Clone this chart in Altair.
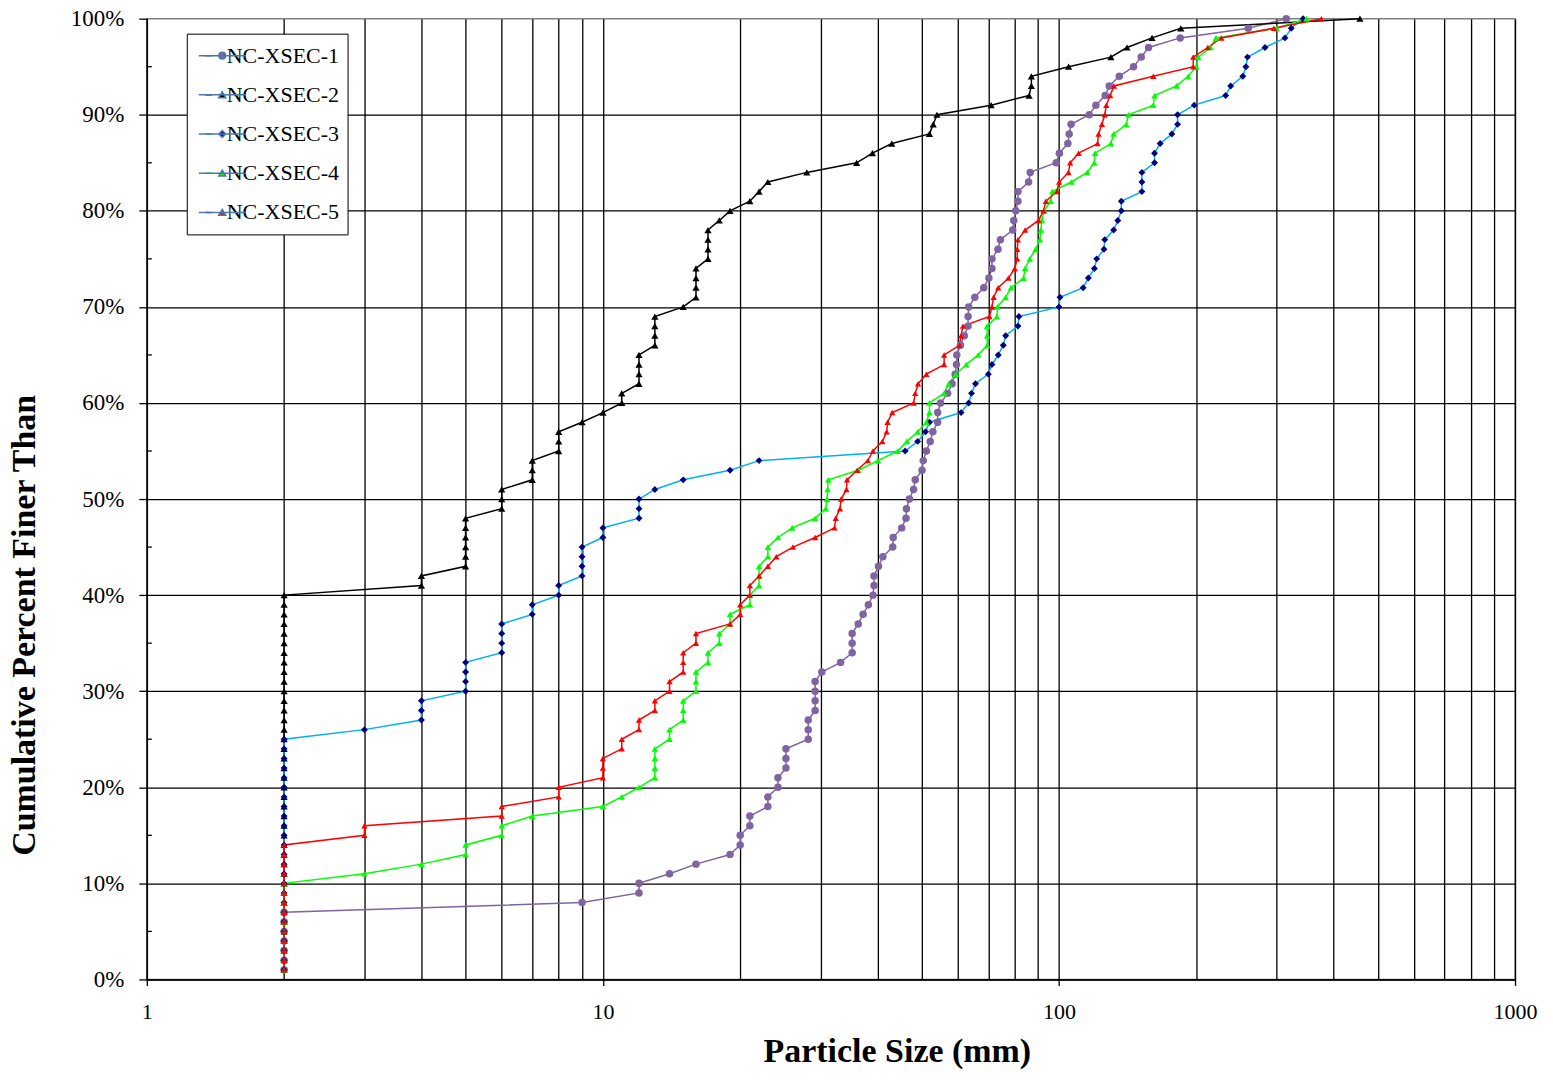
import altair as alt
import pandas as pd

names = ["NC-XSEC-1", "NC-XSEC-2", "NC-XSEC-3", "NC-XSEC-4", "NC-XSEC-5"]
pct = list(range(1, 101))

# particle size (mm) at each cumulative percent 1..100
xsec1 = [2, 2, 2, 2, 2, 2, 2, 9, 12, 12,
         14, 16, 19, 20, 20, 21, 21, 23, 23, 24.2,
         24.2, 25.2, 25.2, 25.2, 28.2, 28.2, 28.2, 29.2, 29.2, 29.2,
         29.2, 30.2, 33.2, 35.2, 35.2, 35.2, 36.3, 37.2, 38.2, 39.1,
         39.3, 39.3, 40.2, 41.1, 43.2, 43.3, 45.2, 46.2, 46.3, 47,
         48, 48.4, 50.1, 50.4, 51.2, 52.2, 52.9, 54.2, 54.2, 55,
         57, 58.3, 59.2, 59.6, 59.7, 60.8, 62, 63.2, 63.2, 63.4,
         65.4, 68.4, 70.2, 71.3, 71.3, 73.5, 74.4, 79.2, 79.6, 80.4,
         81.3, 81.3, 85.8, 86.5, 98.6, 100.2, 104.6, 105.3, 106.3, 116.5,
         120.5, 126.3, 128.9, 135.6, 145.7, 151.5, 157.2, 184.4, 260, 315]
xsec2 = [2] * 40 + [
         4, 4, 5, 5, 5, 5, 5, 5, 6, 6,
         6, 7, 7, 7, 8, 8, 8, 9, 10, 11,
         11, 12, 12, 12, 12, 13, 13, 13, 13, 15,
         16, 16, 16, 16, 17, 17, 17, 17, 18, 19,
         21, 22, 23, 28, 36, 39, 43, 52, 53, 54,
         71, 86, 87, 87, 105, 130, 141, 160, 185, 457]
xsec3 = [2] * 20 + [
         2, 2, 2, 2, 2, 3, 4, 4, 4, 5,
         5, 5, 5, 6, 6, 6, 6, 7, 7, 8,
         8, 9, 9, 9, 9, 10, 10, 12, 12, 12,
         13, 15, 19, 22, 46, 49, 51, 52, 61, 63.4,
         64.3, 65.6, 70, 71.3, 73.6, 75.5, 76.4, 81.3, 81.7, 100,
         100.5, 113, 116, 119.6, 121, 125.5, 126, 131.8, 134.6, 137,
         137, 152, 152, 152, 162, 162, 166.7, 176.8, 182, 182,
         198, 232, 238, 253, 257, 259, 283, 313, 323, 343]
xsec4 = [2] * 10 + [
         3, 4, 5, 5, 6, 6, 7, 10, 11, 12,
         13, 13, 13, 13, 14, 14, 15, 15, 15, 16,
         16, 16, 17, 17, 18, 18, 19, 19, 21, 21,
         22, 22, 22, 23, 23, 24.2, 26, 29.2, 30.8, 31,
         31.1, 31.2, 36.3, 40.1, 44.3, 46.4, 49, 51.2, 52, 52,
         56, 57.3, 59.4, 62.6, 66.5, 69.6, 69.6, 69.6, 73.1, 73.3,
         76.4, 78.5, 83.6, 84.3, 86.3, 88.8, 90.8, 91.3, 91.7, 92.8,
         95.9, 96.7, 106.5, 115.3, 119.5, 120, 130, 131.8, 140.5, 142,
         161, 162, 181, 192, 200, 202, 215, 221, 300, 349]
xsec5 = [2] * 10 + [
         2, 2, 2, 2, 3, 3, 6, 6, 8, 8,
         10, 10, 10, 11, 11, 12, 12, 13, 13, 14,
         14, 15, 15, 15, 16, 16, 19, 20, 20, 21,
         21, 22, 23, 24, 26.1, 29.2, 32.2, 32.4, 33.1, 33.3,
         34.2, 34.3, 36.1, 38.1, 39.1, 41, 41.9, 42.1, 43.1, 48,
         48.4, 49.1, 51.2, 56, 56, 60.5, 61, 61.6, 70.4, 71.3,
         71.9, 73.6, 77.5, 80, 81, 81, 81.3, 84.3, 90.2, 92.5,
         93.6, 98.9, 100.1, 104.9, 105.8, 110.4, 121.5, 122.1, 124.2, 126,
         127, 129.5, 132, 161, 197, 197, 212, 227, 296, 376]
series = [xsec1, xsec2, xsec3, xsec4, xsec5]
for s in series:
    assert len(s) == 100, len(s)

x_grid_values = [1, 2, 3, 4, 5, 6, 7, 8, 9, 10, 20, 30, 40, 50, 60, 70, 80, 90,
                 100, 200, 300, 400, 500, 600, 700, 800, 900, 1000]
x_label_values = [1, 10, 100, 1000]
y_major = [0, 10, 20, 30, 40, 50, 60, 70, 80, 90, 100]
y_minor = [5, 15, 25, 35, 45, 55, 65, 75, 85, 95]

line_colors = ["#8064A2", "#000000", "#00B0F0", "#00FF00", "#FF0000"]
marker_colors = ["#8064A2", "#000000", "#000080", "#00FF00", "#FF0000"]
marker_shapes = ["circle", "triangle-up", "diamond", "triangle-up", "triangle-up"]
marker_sizes = [56, 40, 50, 64, 64]

# legend marker glyphs (with the line part), in unit coordinates
LINE = "M-1,0L1,0"
CIRC = "M-0.14,0A0.14,0.14,0,1,1,0.14,0A0.14,0.14,0,1,1,-0.14,0Z"
TRI = "M0,-0.13L0.15,0.12L-0.15,0.12Z"
DIAM = "M0,-0.15L0.15,0L0,0.15L-0.15,0Z"
legend_paths = [LINE + CIRC, LINE + TRI, LINE + DIAM, LINE + TRI, LINE + TRI]

rows = []
for name, vals in zip(names, series):
    for p, v in zip(pct, vals):
        rows.append({"series": name, "size_mm": v, "pct": p})
df = pd.DataFrame(rows)
df_key = df.groupby("series", as_index=False).first()
df_key["key"] = df_key["series"]

FONT = "Liberation Serif"
label_test = "indexof([1, 10, 100, 1000], datum.value) >= 0"

x_enc = alt.X(
    "size_mm:Q",
    scale=alt.Scale(type="log", domain=[1, 1000], nice=False),
    axis=alt.Axis(
        values=x_grid_values,
        grid=True, gridColor="black", gridWidth=1.3, gridOpacity=1,
        labelExpr=f"{label_test} ? '' + datum.value : ''",
        labelFlush=False, labelOverlap=False,
        labelFont=FONT, labelFontSize=22, labelColor="black", labelPadding=16,
        ticks=True, tickSize=6, tickColor="black", tickWidth=1.3,
        tickOpacity={"condition": {"test": label_test, "value": 1}, "value": 0},
        domainColor="black", domainWidth=1.5,
        title="Particle Size (mm)", titleFont=FONT, titleFontSize=34,
        titleFontWeight="bold", titleColor="black",
        titleX=751, titleY=82, titleAlign="center", titleBaseline="alphabetic",
    ),
)
y_enc = alt.Y(
    "pct:Q",
    scale=alt.Scale(domain=[0, 100], nice=False),
    axis=alt.Axis(
        values=y_major,
        labelExpr="datum.value + '%'",
        grid=True, gridColor="black", gridWidth=1.3,
        gridOpacity={"condition": {"test": "datum.value < 100", "value": 1}, "value": 0},
        labelFont=FONT, labelFontSize=23, labelColor="black", labelPadding=15,
        tickSize=8, tickColor="black", tickWidth=1.3,
        domainColor="black", domainWidth=1.5,
        title="Cumulative Percent Finer Than", titleFont=FONT, titleFontSize=34,
        titleFontWeight="bold", titleColor="black",
        titleAngle=270, titleX=-112, titleY=607, titleAlign="center",
        titleBaseline="alphabetic",
    ),
)

legend_geom = dict(
    title=None, orient="none", legendX=40, legendY=15,
    padding=8, clipHeight=28, rowPadding=11.25,
    labelFont=FONT, labelFontSize=22,
    symbolSize=2209, symbolStrokeWidth=1.5, symbolOpacity=1,
    symbolOffset=3, labelOffset=7,
)

# line legend: white box, coloured line samples and the labels
lines = alt.Chart(df).mark_line(strokeWidth=1.5).encode(
    x=x_enc,
    y=y_enc,
    order=alt.Order("pct:Q"),
    color=alt.Color(
        "series:N",
        scale=alt.Scale(domain=names, range=line_colors),
        legend=alt.Legend(
            symbolType="stroke", labelColor="black",
            fillColor="white", strokeColor="black", zindex=1,
            **legend_geom,
        ),
    ),
)

points = alt.Chart(df).mark_point(filled=True, opacity=1, strokeWidth=0).encode(
    x=alt.X("size_mm:Q"),
    y=alt.Y("pct:Q"),
    fill=alt.Fill("series:N", scale=alt.Scale(domain=names, range=marker_colors), legend=None),
    shape=alt.Shape("series:N", scale=alt.Scale(domain=names, range=marker_shapes), legend=None),
    size=alt.Size("series:O", scale=alt.Scale(domain=names, range=marker_sizes), legend=None),
)

# marker legend laid over the line legend (labels hidden, no box)
key_legend = alt.Legend(labelOpacity=0, zindex=2, **legend_geom)
key = alt.Chart(df_key).mark_point(size=0, strokeWidth=1.5).encode(
    x=alt.X("size_mm:Q"),
    y=alt.Y("pct:Q"),
    shape=alt.Shape("key:N", scale=alt.Scale(domain=names, range=legend_paths), legend=key_legend),
    fill=alt.Fill("key:N", scale=alt.Scale(domain=names, range=marker_colors), legend=key_legend),
)

minor_df = pd.DataFrame({"pct": y_minor})
minor_ticks = alt.Chart(minor_df).mark_rule(color="black", strokeWidth=1.3).encode(
    y=alt.Y("pct:Q"),
    x=alt.value(0),
    x2=alt.value(5),
)

chart = (
    alt.layer(lines, points, minor_ticks, key)
    .resolve_scale(shape="independent", fill="independent")
    .properties(
        width=1370, height=962,
        padding={"left": 139, "top": 10, "right": 30, "bottom": 91},
        autosize=alt.AutoSizeParams(type="none"),
    )
    .configure(font=FONT)
    .configure_view(stroke="#808080", strokeWidth=1.5)
)

chart.save("out.html", embed_options={"renderer": "svg", "actions": False})
